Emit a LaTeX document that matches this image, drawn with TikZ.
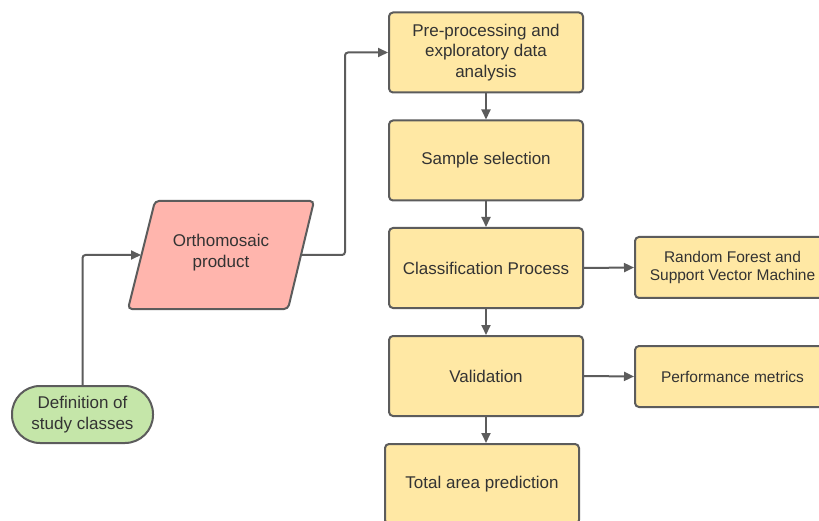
\documentclass[tikz,border=0pt]{standalone}
\usepackage{fontspec}
\setmainfont{Liberation Sans}
\usetikzlibrary{arrows.meta}
\definecolor{lc}{HTML}{5C5C5C}
\definecolor{tc}{HTML}{333333}
\definecolor{yel}{HTML}{FFE8A4}
\definecolor{pnk}{HTML}{FFB5AD}
\definecolor{grn}{HTML}{C5E6A9}
\begin{document}
\begin{tikzpicture}[x=1pt,y=-1pt,
  base/.style={draw=lc, line width=2pt, align=center, text=tc, inner sep=0pt},
  box/.style={base, fill=yel, rounded corners=4pt, minimum width=194pt, minimum height=80pt, font=\fontsize{17}{20.5}\selectfont},
  sidebox/.style={base, fill=yel, rounded corners=4pt, minimum width=195pt, minimum height=61pt, font=\fontsize{15.5}{18}\selectfont},
  term/.style={base, fill=grn, rounded corners=28pt, minimum width=141pt, minimum height=57pt, font=\fontsize{17}{21}\selectfont},
  conn/.style={draw=lc, line width=2pt, rounded corners=3pt, -{Triangle[length=10pt,width=9pt]}}
]
\clip (0,0) rectangle (819,521);
\fill[white] (0,0) rectangle (819,521);

\node[box] (pre) at (486,52.5) {Pre-processing and\\exploratory data\\analysis};
\node[box] (sample) at (486,160.5) {Sample selection};
\node[box] (class) at (486,268) {Classification Process};
\node[box] (valid) at (486,376) {Validation};
\node[box] (total) at (482,484) {Total area prediction};
\node[sidebox] (rf) at (732.5,267.5) {Random Forest and\\Support Vector Machine};
\node[sidebox] (perf) at (732.5,376.5) {Performance metrics};
\node[term] (def) at (82.5,414.5) {Definition of\\study classes};

\draw[draw=lc, fill=pnk, line width=2pt, rounded corners=4pt]
  (155,201) -- (314,201) -- (288,309) -- (128,309) -- cycle;
\node[text=tc, align=center, font=\fontsize{17}{21.5}\selectfont] (ortho) at (221,252.5) {Orthomosaic\\product};
\coordinate (ortL) at (141,255);
\coordinate (ortR) at (301,255);
\coordinate (bend) at (345,150);

\draw[conn] (def.north) |- (ortL);
\draw[conn] (ortR) -| (bend) |- (pre.west);
\draw[conn] (pre.south) -- (sample.north);
\draw[conn] (sample.south) -- (class.north);
\draw[conn] (class.south) -- (valid.north);
\draw[conn] (valid.south) -- (valid.south |- total.north);
\draw[conn] (class.east) -- (rf.west);
\draw[conn] (valid.east) -- (perf.west);
\end{tikzpicture}
\end{document}
